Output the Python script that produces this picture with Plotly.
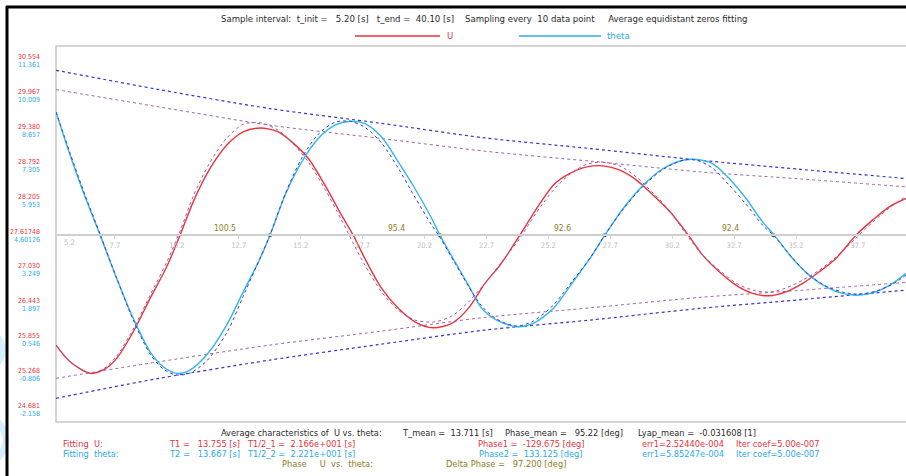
import plotly.graph_objects as go

# ---------------- data ----------------
# U signal (red) and its fitted damped sine, time in seconds
t_u = [5.32, 5.89, 6.69, 7.23, 7.77, 8.44, 9.12, 9.79, 10.33, 10.86, 11.54, 12.21, 12.88,
       13.56, 14.29, 14.84, 15.51, 16.18, 16.85, 17.32, 17.79, 18.47, 19.14, 19.81, 20.55,
       21.30, 21.97, 22.64, 23.25, 24.05, 24.73, 25.40, 26.07, 26.75, 27.42, 28.09, 28.76,
       29.43, 30.11, 30.85, 31.43, 32.10, 32.77, 33.45, 34.12, 34.79, 35.47, 36.14, 36.81,
       37.62, 38.29, 38.96, 39.64]
u_vals = [25.766, 25.485, 25.290, 25.346, 25.542, 25.990, 26.552, 27.084, 27.617, 28.178,
          28.740, 29.132, 29.356, 29.423, 29.356, 29.188, 28.908, 28.459, 27.954, 27.617,
          27.225, 26.720, 26.384, 26.158, 26.057, 26.131, 26.384, 26.805, 27.113, 27.617,
          28.067, 28.459, 28.656, 28.767, 28.784, 28.711, 28.543, 28.291, 28.010, 27.617,
          27.281, 27.000, 26.776, 26.636, 26.596, 26.663, 26.805, 27.000, 27.225, 27.617,
          27.870, 28.094, 28.235]
u_fit = [25.766, 25.480, 25.295, 25.362, 25.581, 26.036, 26.608, 27.163, 27.685, 28.274,
         28.846, 29.250, 29.485, 29.511, 29.385, 29.183, 28.846, 28.392, 27.870, 27.483,
         27.113, 26.658, 26.355, 26.187, 26.153, 26.254, 26.490, 26.810, 27.129, 27.567,
         28.005, 28.375, 28.644, 28.812, 28.846, 28.779, 28.594, 28.324, 28.021, 27.584,
         27.281, 27.028, 26.810, 26.692, 26.658, 26.726, 26.860, 27.028, 27.247, 27.567,
         27.836, 28.072, 28.274]

# theta signal (blue) and its fit
t_th = [5.32, 5.89, 6.42, 7.10, 7.77, 8.44, 9.12, 9.65, 10.19, 10.73, 11.40, 12.21, 12.88,
        13.56, 13.96, 14.57, 15.24, 15.91, 16.58, 17.19, 17.79, 18.47, 19.14, 19.81, 20.49,
        20.82, 21.43, 21.97, 22.51, 23.11, 23.92, 24.59, 25.40, 26.20, 26.88, 27.48, 28.22,
        29.03, 29.84, 30.64, 31.19, 31.83, 32.50, 33.18, 33.85, 34.32, 35.06, 35.73, 36.41,
        37.08, 37.75, 38.42, 39.10, 39.64]
th_vals = [9.377, 7.700, 6.278, 4.601, 2.924, 1.375, 0.081, -0.499, -0.755, -0.627, -0.046,
           1.116, 2.405, 3.699, 4.601, 6.150, 7.440, 8.346, 8.862, 9.016, 8.927, 8.408,
           7.440, 6.410, 5.248, 4.601, 3.567, 2.665, 1.762, 1.309, 1.050, 1.181, 1.762,
           2.793, 3.699, 4.601, 5.635, 6.538, 7.185, 7.506, 7.533, 7.378, 6.797, 6.023,
           5.116, 4.601, 3.699, 3.052, 2.599, 2.343, 2.277, 2.405, 2.731, 3.118]
th_fit = [9.377, 7.777, 6.344, 4.640, 2.936, 1.309, -0.008, -0.589, -0.821, -0.743, -0.279,
          0.806, 2.239, 3.711, 4.601, 6.189, 7.584, 8.513, 8.978, 9.016, 8.784, 8.164,
          7.196, 6.073, 4.989, 4.524, 3.517, 2.626, 1.851, 1.348, 1.077, 1.270, 1.890,
          2.858, 3.711, 4.601, 5.608, 6.499, 7.158, 7.506, 7.506, 7.196, 6.538, 5.802,
          4.989, 4.563, 3.711, 3.052, 2.626, 2.394, 2.316, 2.432, 2.703, 3.052]

# exponential envelopes of both fits
t_env = [5.32, 9.48, 13.96, 18.40, 22.64, 26.88, 31.32, 35.36, 39.64]
u_env_hi = [30.069, 29.777, 29.469, 29.248, 29.031, 28.864, 28.683, 28.565, 28.430]
u_env_lo = [25.206, 25.485, 25.766, 25.997, 26.232, 26.392, 26.569, 26.687, 26.822]
th_env_hi = [10.992, 10.244, 9.508, 8.943, 8.370, 7.959, 7.506, 7.154, 6.797]
th_env_lo = [-1.723, -0.949, -0.240, 0.368, 0.922, 1.309, 1.762, 2.099, 2.471]

# mean levels and zero crossings (U crossing -> theta crossing) with phase shifts [deg]
u_mean = 27.61748
th_mean = 4.60126
zero_u = [10.33, 17.32, 24.05, 30.85]
zero_th = [13.96, 20.82, 27.48, 34.28]
phase_deg = ["100.5", "95.4", "92.6", "92.4"]

# axis ticks
u_ticks = ["30.554", "29.967", "29.380", "28.792", "28.205", "27.61748",
           "27.030", "26.443", "25.855", "25.268", "24.681"]
th_ticks = ["11.361", "10.009", "8.657", "7.305", "5.953", "4.60126",
            "3.249", "1.897", "0.546", "-0.806", "-2.158"]
t_ticks = [7.7, 10.2, 12.7, 15.2, 17.7, 20.2, 22.7, 25.2, 27.7, 30.2, 32.7, 35.2, 37.7]
t_first = 5.2

# ---------------- styling ----------------
W, H = 906, 476
L, R, T, B = 56, 0, 46, 54
PW, PH = W - L - R, H - T - B
FONT = "DejaVu Sans Condensed, Liberation Sans Narrow, sans-serif"
RED = "#e8323c"
BLUE = "#2eaaea"
OLIVE = "#8f7d1c"
DARK = "#2a2a2a"

U_RANGE = [24.470, 30.803]
TH_RANGE = [-2.641, 11.933]
T_RANGE = [5.32, 39.64]
mid_pos = (u_mean - U_RANGE[0]) / (U_RANGE[1] - U_RANGE[0])


def px(x):
    return (x - L) / PW


def py(y):
    return (H - B - y) / PH


fig = go.Figure()


def line_trace(x, y, color, width, dash="solid", axis="y", shape="spline"):
    fig.add_trace(go.Scatter(x=x, y=y, mode="lines", yaxis=axis,
                             line=dict(color=color, width=width, dash=dash, shape=shape,
                                       smoothing=0.8),
                             hoverinfo="skip"))


# envelopes
line_trace(t_env, th_env_hi, "#3434d4", 1.2, "dot", "y2")
line_trace(t_env, th_env_lo, "#3434d4", 1.2, "dot", "y2")
line_trace(t_env, u_env_hi, "#a066a6", 1.0, "dot", "y")
line_trace(t_env, u_env_lo, "#a066a6", 1.0, "dot", "y")

# measured signals
line_trace(t_u, u_vals, "#e8343f", 1.4, "solid", "y")
line_trace(t_th, th_vals, "#33b5ee", 1.4, "solid", "y2")

# fitted curves
line_trace(t_u, u_fit, "#9e5aa0", 1.0, "dot", "y")
line_trace(t_th, th_fit, "#3b3bcc", 1.0, "dot", "y2")

# phase segments between zero crossings
for a, b in zip(zero_u, zero_th):
    fig.add_trace(go.Scatter(x=[a, b], y=[u_mean, u_mean], mode="lines", yaxis="y",
                             line=dict(color=OLIVE, width=1.5), hoverinfo="skip"))
fig.add_trace(go.Scatter(x=zero_th, y=[u_mean] * len(zero_th), mode="markers", yaxis="y",
                         marker=dict(color="#4a4a10", size=4), hoverinfo="skip"))

annotations = []
for a, b, lab in zip(zero_u, zero_th, phase_deg):
    annotations.append(dict(x=(a + b) / 2, y=u_mean, xref="x", yref="y", text=lab,
                            showarrow=False, yshift=7,
                            font=dict(family=FONT, size=8.5, color=OLIVE)))

# first time tick sits at the very left edge of the frame
annotations.append(dict(x=T_RANGE[0], y=u_mean, xref="x", yref="y", text=f"{t_first:.1f}",
                        showarrow=False, xanchor="left", xshift=6, yshift=-7,
                        font=dict(family=FONT, size=7.5, color="#bdbdbd")))


def txt(x, y, s, color=DARK, size=9.2, anchor="left"):
    annotations.append(dict(x=px(x), y=py(y), xref="paper", yref="paper", text=s,
                            showarrow=False, xanchor=anchor, yanchor="middle",
                            font=dict(family=FONT, size=size, color=color)))


# header and legend
txt(484, 19, "Sample interval:  t_init =   5.20 [s]   t_end =  40.10 [s]    "
    "Sampling every  10 data point     Average equidistant zeros fitting", DARK, 9.5, "center")
txt(445, 36, "U", RED, 9.5)
txt(605, 36, "theta", BLUE, 9.5)

# summary block
txt(219, 432, "Average characteristics of  U vs. theta:")
txt(400, 432, "T_mean =  13.711 [s]")
txt(503, 432, "Phase_mean =   95.22 [deg]")
txt(636, 432, "Lyap_mean =  -0.031608 [1]")

txt(61, 443, "Fitting  U:", RED)
txt(167, 443, "T1 =   13.755 [s]   T1/2_1 =  2.166e+001 [s]", RED)
txt(476, 443, "Phase1 =  -129.675 [deg]", RED)
txt(640, 443, "err1=2.52440e-004", RED)
txt(734, 443, "Iter coef=5.00e-007", RED)

txt(61, 453, "Fitting  theta:", BLUE)
txt(167, 453, "T2 =   13.667 [s]   T1/2_2 =  2.221e+001 [s]", BLUE)
txt(477, 453, "Phase2 =  133.125 [deg]", BLUE)
txt(640, 453, "err1=5.85247e-004", BLUE)
txt(734, 453, "Iter coef=5.00e-007", BLUE)

txt(280, 463, "Phase     U  vs.  theta:", OLIVE)
txt(444, 463, "Delta Phase =   97.200 [deg]", OLIVE)


def circle(cx, cy, r, color, width):
    return dict(type="circle", xref="paper", yref="paper",
                x0=px(cx - r), x1=px(cx + r), y0=py(cy + r), y1=py(cy - r),
                line=dict(color=color, width=width), layer="below")


shapes = [
    # pale desktop decoration left of the window
    circle(-18, 350, 20, "#d4f0fc", 7),
    circle(-16, 440, 22, "#d4f0fc", 7),
    # plot frame
    dict(type="rect", xref="paper", yref="paper", x0=0, x1=1.02, y0=0, y1=1,
         line=dict(color="#c8c8c8", width=1.5), layer="below"),
    # window border
    dict(type="line", xref="paper", yref="paper", x0=px(7), x1=px(7), y0=py(6), y1=py(H + 2),
         line=dict(color="black", width=3)),
    dict(type="line", xref="paper", yref="paper", x0=px(6), x1=px(W + 2), y0=py(7), y1=py(7),
         line=dict(color="black", width=3)),
    # legend strokes
    dict(type="line", xref="paper", yref="paper", x0=px(355), x1=px(440), y0=py(36), y1=py(36),
         line=dict(color=RED, width=1.5)),
    dict(type="line", xref="paper", yref="paper", x0=px(519), x1=px(601), y0=py(36), y1=py(36),
         line=dict(color=BLUE, width=1.5)),
]

fig.update_layout(
    width=W, height=H,
    margin=dict(l=L, r=R, t=T, b=B, autoexpand=False),
    paper_bgcolor="white", plot_bgcolor="white",
    showlegend=False,
    font=dict(family=FONT),
    xaxis=dict(range=T_RANGE, anchor="free", position=mid_pos,
               showline=True, linecolor="#cfcfcf", linewidth=1.5,
               showgrid=False, zeroline=False,
               tickvals=t_ticks, ticktext=[f"{v:.1f}" for v in t_ticks],
               ticks="outside", ticklen=3, tickcolor="#d8d8d8",
               tickfont=dict(family=FONT, size=7.5, color="#bdbdbd")),
    yaxis=dict(range=U_RANGE, showgrid=False, zeroline=False, showline=False,
               tickvals=[float(v) for v in u_ticks], ticktext=u_ticks, ticks="",
               ticklabelshift=-4, ticklabelstandoff=15,
               tickfont=dict(family=FONT, size=7, color=RED)),
    yaxis2=dict(range=TH_RANGE, overlaying="y", side="left", showgrid=False,
                zeroline=False, showline=False,
                tickvals=[float(v) for v in th_ticks], ticktext=th_ticks, ticks="",
                ticklabelshift=4, ticklabelstandoff=15,
                tickfont=dict(family=FONT, size=7, color=BLUE)),
    annotations=annotations,
    shapes=shapes,
)

fig.write_html("out.html")
